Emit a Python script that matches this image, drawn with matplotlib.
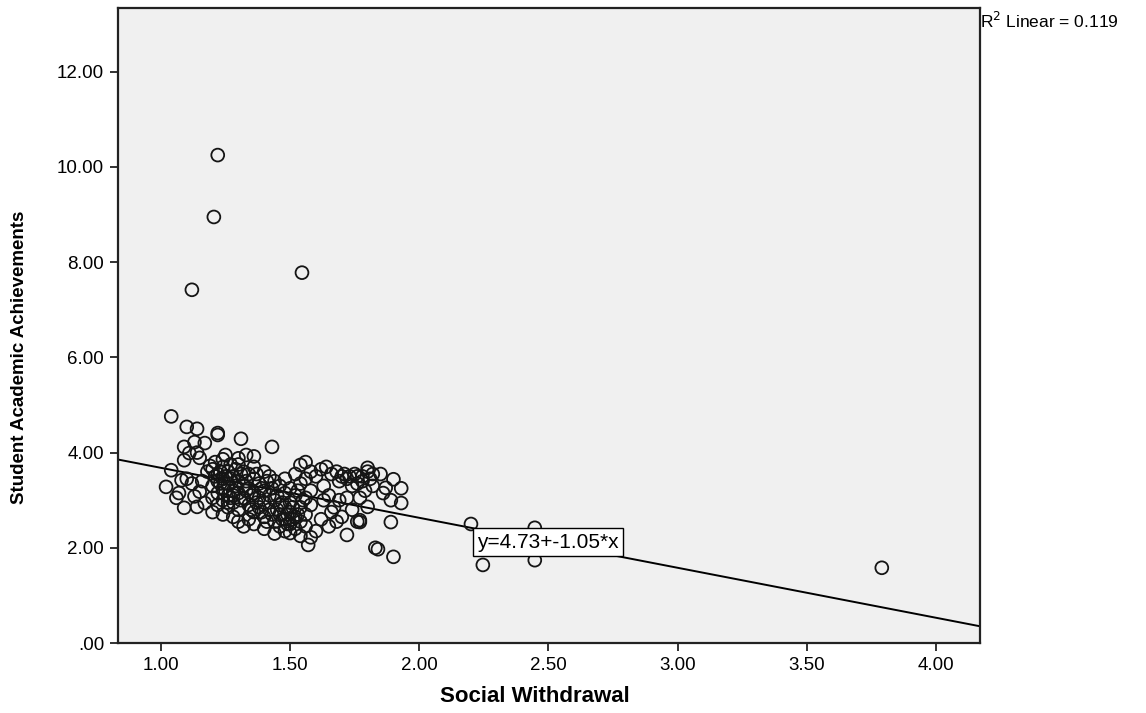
import matplotlib
matplotlib.use("Agg")
import matplotlib.pyplot as plt
import numpy as np

# ---- data ----
social_withdrawal = [
    # upper-left sparse points
    1.04, 1.10, 1.14, 1.22, 1.22, 1.31, 1.43, 1.09, 1.13, 1.17, 1.11, 1.14, 1.09, 1.15, 1.04,
    1.19, 1.21, 1.24, 1.27, 1.30, 1.33, 1.36, 1.25, 1.18,
    # left edge lower
    1.02, 1.07, 1.06, 1.09, 1.14, 1.17, 1.08, 1.12, 1.15, 1.10, 1.13, 1.16,
    # dense core
    1.20, 1.20, 1.20, 1.20,
    1.22, 1.22, 1.22, 1.22,
    1.24, 1.24, 1.24, 1.24, 1.24,
    1.26, 1.26, 1.26, 1.26,
    1.28, 1.28, 1.28, 1.28,
    1.30, 1.30, 1.30, 1.30, 1.30,
    1.32, 1.32, 1.32, 1.32,
    1.34, 1.34, 1.34, 1.34,
    1.36, 1.36, 1.36, 1.36, 1.36,
    1.38, 1.38, 1.38,
    1.40, 1.40, 1.40, 1.40, 1.40,
    1.42, 1.42, 1.42,
    1.44, 1.44, 1.44, 1.44,
    1.46, 1.46, 1.46, 1.46,
    1.48, 1.48, 1.48, 1.48, 1.48,
    1.50, 1.50, 1.50, 1.50, 1.50,
    1.52, 1.52, 1.52, 1.52,
    1.54, 1.54, 1.54, 1.54, 1.54,
    1.56, 1.56, 1.56, 1.56, 1.56,
    1.58, 1.58, 1.58, 1.58,
    1.57,
    # extra core density
    1.21, 1.23, 1.25, 1.27, 1.29, 1.31, 1.33, 1.35, 1.23, 1.27, 1.29, 1.31, 1.33, 1.25,
    1.37, 1.39, 1.41, 1.43, 1.45, 1.47, 1.49, 1.51, 1.53, 1.47, 1.49, 1.51, 1.45, 1.55,
    1.53, 1.43, 1.39, 1.41, 1.37, 1.35, 1.26, 1.28,
    # right group
    1.60, 1.62, 1.63, 1.64, 1.65, 1.66, 1.67, 1.68, 1.69, 1.70, 1.71, 1.72, 1.72, 1.73,
    1.74, 1.75, 1.76, 1.77, 1.77, 1.77, 1.78, 1.79, 1.80, 1.80, 1.80, 1.81, 1.82, 1.83,
    1.84, 1.85, 1.86, 1.87, 1.89, 1.89, 1.90, 1.90, 1.93, 1.93, 1.62, 1.65, 1.68, 1.60,
    1.63, 1.66, 1.69, 1.74, 1.76, 1.82, 1.70, 1.72, 1.76, 1.78,
    # outliers
    1.22, 1.205, 1.12, 1.546, 3.79, 2.20, 2.246, 2.447, 2.447,
]
achievement = [
    4.76, 4.54, 4.50, 4.41, 4.37, 4.29, 4.12, 4.12, 4.22, 4.20, 3.99, 4.00, 3.84, 3.89, 3.63,
    3.72, 3.80, 3.86, 3.75, 3.88, 3.95, 3.92, 3.95, 3.60,
    3.28, 3.15, 3.05, 2.84, 2.86, 2.94, 3.42, 3.35, 3.18, 3.45, 3.08, 3.40,
    3.65, 3.30, 3.05, 2.75,
    3.55, 3.40, 3.15, 2.90,
    3.70, 3.45, 3.25, 3.00, 2.70,
    3.60, 3.35, 3.10, 2.85,
    3.50, 3.20, 2.95, 2.65,
    3.75, 3.40, 3.15, 2.80, 2.55,
    3.60, 3.30, 3.05, 2.45,
    3.55, 3.25, 2.90, 2.60,
    3.70, 3.45, 3.15, 2.75, 2.50,
    3.35, 3.05, 2.85,
    3.60, 3.20, 2.95, 2.65, 2.40,
    3.50, 3.10, 2.80,
    3.40, 3.00, 2.55, 2.30,
    3.30, 2.90, 2.70, 2.45,
    3.45, 3.15, 2.85, 2.60, 2.35,
    3.25, 2.95, 2.75, 2.50, 2.31,
    3.55, 3.10, 2.65, 2.40,
    3.74, 3.35, 2.85, 2.55, 2.25,
    3.80, 3.45, 3.05, 2.70, 2.45,
    3.60, 3.20, 2.90, 2.22,
    2.06,
    3.50, 3.35, 3.20, 3.45, 3.30, 3.55, 3.40, 3.10, 3.60, 3.05, 3.65, 3.00, 3.20, 3.50,
    3.55, 3.25, 3.40, 3.25, 2.80, 2.60, 2.70, 2.85, 2.70, 2.95, 2.50, 2.60, 3.10, 3.00,
    3.20, 2.70, 2.75, 2.55, 2.95, 2.80, 2.95, 3.10,
    3.50, 3.65, 3.30, 3.70, 3.10, 3.55, 2.85, 3.60, 3.40, 2.65, 3.55, 3.05, 2.27, 3.50,
    2.80, 3.55, 3.35, 3.05, 2.58, 2.54, 3.50, 3.20, 3.68, 3.60, 2.86, 3.45, 3.30, 2.00,
    1.97, 3.55, 3.15, 3.26, 3.00, 2.54, 3.44, 1.81, 3.25, 2.94, 2.60, 2.45, 2.55, 2.35,
    3.00, 2.75, 3.00, 3.30, 2.55, 3.55, 3.50, 3.45, 3.50, 3.40,
    10.25, 8.95, 7.42, 7.78, 1.58, 2.50, 1.64, 2.42, 1.74,
]
intercept = 4.73
slope = -1.05
r_squared = 0.119

x_ticks = [1.00, 1.50, 2.00, 2.50, 3.00, 3.50, 4.00]
x_tick_labels = ["1.00", "1.50", "2.00", "2.50", "3.00", "3.50", "4.00"]
y_ticks = [0, 2, 4, 6, 8, 10, 12]
y_tick_labels = [".00", "2.00", "4.00", "6.00", "8.00", "10.00", "12.00"]

# ---- figure ----
fig = plt.figure(figsize=(11.46, 7.13), dpi=100)
fig.patch.set_facecolor("white")
ax = fig.add_axes([118 / 1146, 1 - 643 / 713, (980 - 118) / 1146, (643 - 8) / 713])
ax.set_facecolor("#f0f0f0")

ax.scatter(social_withdrawal, achievement, s=85, facecolors="none",
           edgecolors="#151515", linewidths=1.3, zorder=3)

xlim = (0.834, 4.17)
ylim = (0, 13.34)
ax.set_xlim(*xlim)
ax.set_ylim(*ylim)

xl = np.array(xlim)
ax.plot(xl, intercept + slope * xl, color="black", lw=1.4, zorder=2)

ax.text(2.498, 2.12, f"y={intercept:.2f}+{slope:.2f}*x", ha="center", va="center",
        fontsize=15, family="Liberation Sans", zorder=5,
        bbox=dict(boxstyle="square,pad=0.2", facecolor="white", edgecolor="black", lw=1.0))

fig.text(980 / 1146, 1 - 21 / 713, f"R$^2$ Linear = {r_squared:.3f}", ha="left", va="center",
         fontsize=12.5, family="Liberation Sans")

ax.set_xticks(x_ticks)
ax.set_xticklabels(x_tick_labels, family="Liberation Sans", fontsize=13.5)
ax.set_yticks(y_ticks)
ax.set_yticklabels(y_tick_labels, family="Liberation Sans", fontsize=13.5)
ax.tick_params(direction="out", length=6, width=1.3, color="#222222", pad=4)

for sp in ax.spines.values():
    sp.set_linewidth(1.6)
    sp.set_color("#222222")

ax.set_xlabel("Social Withdrawal", family="Liberation Sans", fontweight="bold",
              fontsize=16)
ax.xaxis.set_label_coords((535 - 118) / 862, -(697 - 643) / 635)
ax.set_ylabel("Student Academic Achievements",
              family=["Liberation Sans Narrow", "Liberation Sans"],
              fontweight="bold", fontsize=13.5)
ax.yaxis.set_label_coords((20 - 118) / 862, (643 - 357) / 635)
ax.yaxis.label.set_va("center")
ax.xaxis.label.set_va("center")

fig.savefig("out.png", dpi=100)
